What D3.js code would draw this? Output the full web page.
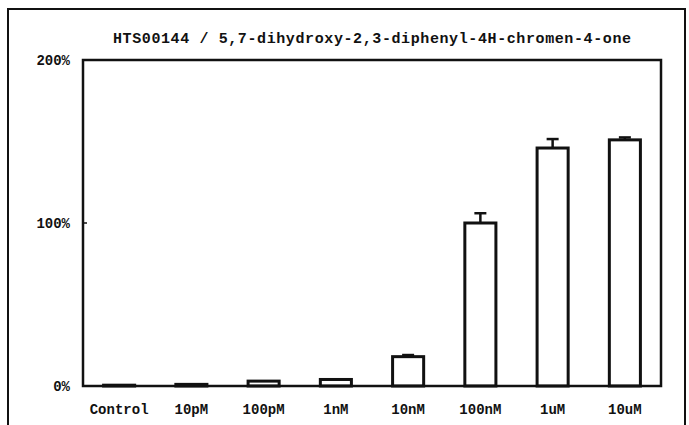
<!DOCTYPE html>
<html>
<head>
<meta charset="utf-8">
<script src="https://cdn.jsdelivr.net/npm/d3@7"></script>
<style>
  body { margin: 0; background: #fff; }
  text { font-family: "Liberation Mono", "DejaVu Sans Mono", monospace; fill: #111; font-weight: bold; }
</style>
</head>
<body>
<div id="container"></div>
<script>
const categories = ["Control", "10pM", "100pM", "1nM", "10nM", "100nM", "1uM", "10uM"];
const values = [0.5, 1, 3, 4, 18, 100, 146, 151];
const errors = [0, 0, 0, 0, 1, 6, 5.5, 1.5];
const yTicks = [0, 100, 200];
const title = "HTS00144 / 5,7-dihydroxy-2,3-diphenyl-4H-chromen-4-one";

const W = 689, H = 425;
const margin = { top: 60, right: 28, bottom: 39, left: 83 };
const width = W - margin.left - margin.right;
const height = H - margin.top - margin.bottom;

const svg = d3.select("#container").append("svg")
  .attr("width", W)
  .attr("height", H);

// outer frame (runs off the bottom of the page)
svg.append("rect")
  .attr("x", 8).attr("y", 9)
  .attr("width", 677).attr("height", 430)
  .attr("fill", "none").attr("stroke", "#111").attr("stroke-width", 2);

svg.append("text")
  .attr("x", 372).attr("y", 43)
  .attr("text-anchor", "middle")
  .attr("font-size", 15)
  .attr("textLength", 518)
  .text(title);

const g = svg.append("g")
  .attr("transform", `translate(${margin.left},${margin.top})`);

const x = d3.scaleBand()
  .domain(categories)
  .range([0, width])
  .paddingInner(0.57)
  .paddingOuter(0.285);

const y = d3.scaleLinear()
  .domain([0, 200])
  .range([height, 0]);

// y labels
g.selectAll(".ylab")
  .data(yTicks)
  .enter()
  .append("text")
  .attr("class", "ylab")
  .attr("x", -13)
  .attr("y", d => y(d) + 5)
  .attr("text-anchor", "end")
  .attr("font-size", 14)
  .text(d => d + "%");

// x labels
g.selectAll(".xlab")
  .data(categories)
  .enter()
  .append("text")
  .attr("class", "xlab")
  .attr("x", d => x(d) + x.bandwidth() / 2)
  .attr("y", height + 28)
  .attr("text-anchor", "middle")
  .attr("font-size", 14)
  .text(d => d);

// error bars (upper only)
const err = g.selectAll(".err")
  .data(categories.map((c, i) => ({ c, v: values[i], e: errors[i] })).filter(d => d.e > 0))
  .enter()
  .append("g")
  .attr("class", "err");

err.append("line")
  .attr("x1", d => x(d.c) + x.bandwidth() / 2)
  .attr("x2", d => x(d.c) + x.bandwidth() / 2)
  .attr("y1", d => y(d.v))
  .attr("y2", d => y(d.v + d.e))
  .attr("stroke", "#111").attr("stroke-width", 2.5);

err.append("line")
  .attr("x1", d => x(d.c) + x.bandwidth() / 2 - 6)
  .attr("x2", d => x(d.c) + x.bandwidth() / 2 + 6)
  .attr("y1", d => y(d.v + d.e))
  .attr("y2", d => y(d.v + d.e))
  .attr("stroke", "#111").attr("stroke-width", 2.5);

// bars
g.selectAll(".bar")
  .data(values)
  .enter()
  .append("rect")
  .attr("class", "bar")
  .attr("x", (d, i) => x(categories[i]))
  .attr("y", d => y(d))
  .attr("width", x.bandwidth())
  .attr("height", d => height - y(d))
  .attr("fill", "#fff")
  .attr("stroke", "#111")
  .attr("stroke-width", 3);

// plot frame
g.append("rect")
  .attr("x", 0).attr("y", 0)
  .attr("width", width).attr("height", height)
  .attr("fill", "none").attr("stroke", "#111").attr("stroke-width", 2.5);

// small inner tick at 100%
g.append("line")
  .attr("x1", 0).attr("x2", 4)
  .attr("y1", y(100)).attr("y2", y(100))
  .attr("stroke", "#111").attr("stroke-width", 1.5);
</script>
</body>
</html>
